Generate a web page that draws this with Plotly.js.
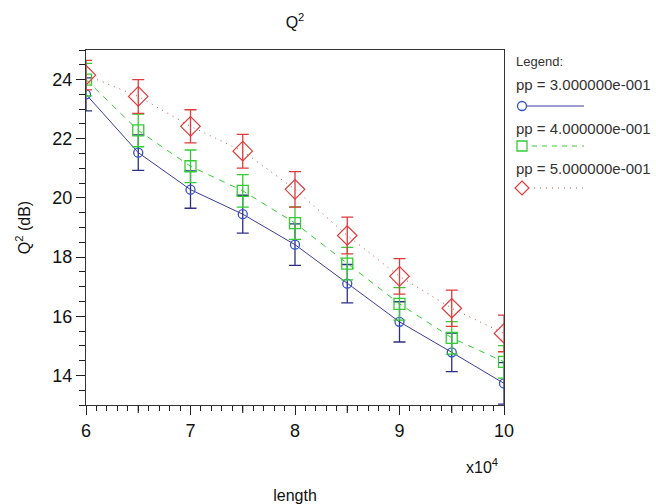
<!DOCTYPE html>
<html>
<head>
<meta charset="utf-8">
<script src="https://cdn.plot.ly/plotly-3.0.1.min.js"></script>
<style>html,body{margin:0;padding:0;background:#fff;}#chart{width:656px;height:504px;}</style>
</head>
<body>
<div id="chart"></div>
<script>
// ---- data ----
const lengths = [60000, 65000, 70000, 75000, 80000, 85000, 90000, 95000, 100000];
const q2_pp3 = [23.50, 21.53, 20.28, 19.45, 18.42, 17.10, 15.81, 14.78, 13.73];
const err_pp3 = [0.56, 0.60, 0.63, 0.64, 0.70, 0.65, 0.68, 0.65, 0.70];
const q2_pp4 = [24.00, 22.28, 21.07, 20.24, 19.15, 17.78, 16.42, 15.27, 14.46];
const err_pp4 = [0.55, 0.55, 0.55, 0.55, 0.55, 0.55, 0.55, 0.55, 0.55];
const q2_pp5 = [24.15, 23.43, 22.42, 21.58, 20.29, 18.73, 17.35, 16.27, 15.42];
const err_pp5 = [0.50, 0.57, 0.56, 0.57, 0.60, 0.62, 0.60, 0.61, 0.62];
const seriesNames = ['pp = 3.000000e-001', 'pp = 4.000000e-001', 'pp = 5.000000e-001'];
const xTickVals = [60000, 70000, 80000, 90000, 100000];
const xTickText = ['6', '7', '8', '9', '10'];
const xHalfTickVals = [65000, 75000, 85000, 95000];
const yTickVals = [14, 16, 18, 20, 22, 24];
const yTickText = ['14', '16', '18', '20', '22', '24'];

const FONT = 'Liberation Sans, Arial, sans-serif';
const blueLine = '#3b3b9e', blueMk = '#3355cc', blueErr = '#2e2e88';
const green = '#33cc33';
const red = '#e03a3a', redLine = '#b85050';

const traces = [
  {x: lengths, y: q2_pp3, name: seriesNames[0], type: 'scatter', mode: 'lines+markers',
   line: {color: blueLine, width: 1, dash: 'solid'},
   marker: {symbol: 'circle-open', size: 9, color: blueMk, line: {width: 1.3, color: blueMk}},
   error_y: {type: 'data', array: err_pp3, visible: true, color: blueErr, thickness: 1.3, width: 6}},
  {x: lengths, y: q2_pp4, name: seriesNames[1], type: 'scatter', mode: 'lines+markers',
   line: {color: green, width: 1, dash: '6px,6px'},
   marker: {symbol: 'square-open', size: 11, color: green, line: {width: 1.3, color: green}},
   error_y: {type: 'data', array: err_pp4, visible: true, color: green, thickness: 1.3, width: 6}},
  {x: lengths, y: q2_pp5, name: seriesNames[2], type: 'scatter', mode: 'lines+markers',
   line: {color: redLine, width: 1, dash: '1px,5px'},
   marker: {symbol: 'diamond-open', size: 15, color: red, line: {width: 1.2, color: red}},
   error_y: {type: 'data', array: err_pp5, visible: true, color: red, thickness: 1.3, width: 6}}
];

// legend helpers (paper coordinates)
const L = 86, R = 504, T = 50, B = 405;
const px = v => (v - L) / (R - L);
const py = v => (B - v) / (B - T);
const legendRows = [
  {textY: 84, sampleY: 106, color: blueLine, mk: blueMk, dash: 'solid', sym: 'circle'},
  {textY: 128, sampleY: 146, color: green, mk: green, dash: '5px,5px', sym: 'square'},
  {textY: 168, sampleY: 188, color: redLine, mk: red, dash: '1px,5px', sym: 'diamond'}
];

const annotations = [
  {text: 'x10<sup>4</sup>', xref: 'paper', yref: 'paper', x: px(482), y: py(466), showarrow: false,
   font: {family: FONT, size: 16, color: '#111'}, xanchor: 'center', yanchor: 'middle'},
  {text: 'Legend:', xref: 'paper', yref: 'paper', x: px(514), y: py(62), showarrow: false,
   font: {family: FONT, size: 13, color: '#333'}, xanchor: 'left', yanchor: 'middle'}
];
const shapes = [];
// medium ticks at the half-units of the x axis
xHalfTickVals.forEach(v => {
  shapes.push({type: 'line', xref: 'x', yref: 'paper', ysizemode: 'pixel', yanchor: 0,
    x0: v, x1: v, y0: 0, y1: -8, line: {color: '#222', width: 1.1}});
});
legendRows.forEach((r, i) => {
  annotations.push({text: seriesNames[i], xref: 'paper', yref: 'paper', x: px(514), y: py(r.textY),
    showarrow: false, font: {family: FONT, size: 15, color: '#333'}, xanchor: 'left', yanchor: 'middle'});
  shapes.push({type: 'line', xref: 'paper', yref: 'paper', x0: px(522), x1: px(584), y0: py(r.sampleY), y1: py(r.sampleY),
    line: {color: r.color, width: 1, dash: r.dash}});
  const ax = px(522), ay = py(r.sampleY);
  if (r.sym === 'circle') {
    shapes.push({type: 'circle', xref: 'paper', yref: 'paper', xsizemode: 'pixel', ysizemode: 'pixel',
      xanchor: ax, yanchor: ay, x0: -4.5, x1: 4.5, y0: -4.5, y1: 4.5, fillcolor: '#fff', line: {color: r.mk, width: 1.3}});
  } else if (r.sym === 'square') {
    shapes.push({type: 'rect', xref: 'paper', yref: 'paper', xsizemode: 'pixel', ysizemode: 'pixel',
      xanchor: ax, yanchor: ay, x0: -5, x1: 5, y0: -5, y1: 5, fillcolor: '#fff', line: {color: r.mk, width: 1.3}});
  } else {
    shapes.push({type: 'path', xref: 'paper', yref: 'paper', xsizemode: 'pixel', ysizemode: 'pixel',
      xanchor: ax, yanchor: ay, path: 'M0,7 L7,0 L0,-7 L-7,0 Z', fillcolor: '#fff', line: {color: r.mk, width: 1.2}});
  }
});

const layout = {
  width: 656, height: 504,
  margin: {l: L, r: 656 - R, t: T, b: 504 - B, pad: 0},
  paper_bgcolor: '#fff', plot_bgcolor: '#fff',
  showlegend: false,
  title: {text: 'Q<sup>2</sup>', x: 0.5 * (L + R) / 656, xanchor: 'center', y: 1 - 22 / 504, yanchor: 'middle',
    font: {family: FONT, size: 16, color: '#111'}},
  xaxis: {range: [60000, 100000], tickmode: 'array', tickvals: xTickVals, ticktext: xTickText,
    ticks: 'outside', ticklen: 9, tickwidth: 1.2, tickcolor: '#222',
    minor: {dtick: 1000, tick0: 60000, ticks: 'outside', ticklen: 5, tickwidth: 1, tickcolor: '#222', showgrid: false},
    showline: true, linecolor: '#333', linewidth: 1.2, mirror: true, showgrid: false, zeroline: false,
    tickfont: {family: FONT, size: 18, color: '#111'},
    title: {text: 'length', font: {family: FONT, size: 16, color: '#111'}, standoff: 52}},
  yaxis: {range: [13, 25], tickmode: 'array', tickvals: yTickVals, ticktext: yTickText,
    ticks: 'outside', ticklen: 9, tickwidth: 1.2, tickcolor: '#222',
    minor: {dtick: 0.5, tick0: 13, ticks: 'outside', ticklen: 6, tickwidth: 1, tickcolor: '#222', showgrid: false},
    showline: true, linecolor: '#333', linewidth: 1.2, mirror: true, showgrid: false, zeroline: false,
    tickfont: {family: FONT, size: 18, color: '#111'},
    title: {text: 'Q<sup>2</sup> (dB)', font: {family: FONT, size: 16, color: '#111'}, standoff: 17}},
  annotations: annotations,
  shapes: shapes
};

Plotly.newPlot('chart', traces, layout, {displayModeBar: false, responsive: false});
</script>
</body>
</html>
